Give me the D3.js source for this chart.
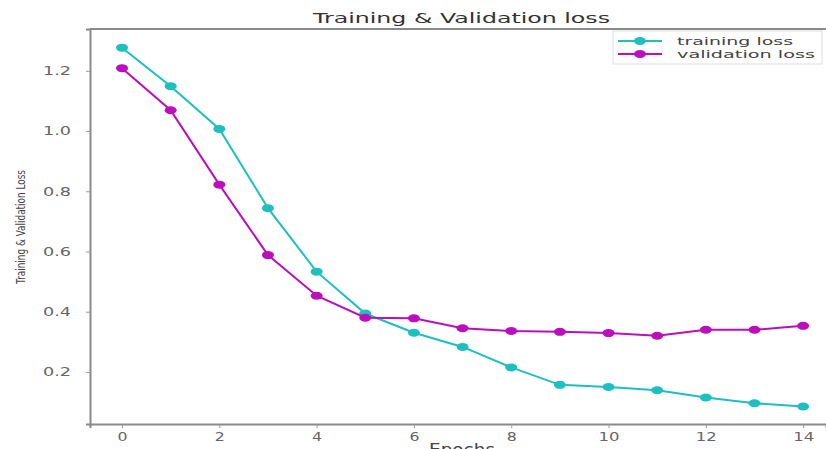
<!DOCTYPE html>
<html>
<head>
<meta charset="utf-8">
<script src="https://cdn.jsdelivr.net/npm/d3@7"></script>
<style>
    body { margin: 0; background: #fff; }
    text { font-family: "DejaVu Sans", sans-serif; }
</style>
</head>
<body>
<div id="chart"></div>
<script>
var epochs = [0, 1, 2, 3, 4, 5, 6, 7, 8, 9, 10, 11, 12, 13, 14];
var trainingLoss = [1.277, 1.149, 1.007, 0.744, 0.533, 0.394, 0.330, 0.283, 0.215, 0.157, 0.150, 0.139, 0.115, 0.096, 0.085];
var validationLoss = [1.209, 1.069, 0.822, 0.588, 0.453, 0.380, 0.378, 0.345, 0.336, 0.333, 0.329, 0.320, 0.340, 0.340, 0.353];
var xTicks = [0, 2, 4, 6, 8, 10, 12, 14];
var yTicks = [0.2, 0.4, 0.6, 0.8, 1.0, 1.2];
var seriesNames = ["training loss", "validation loss"];

var svgWidth = 826, svgHeight = 449;
var chartMargin = { top: 29, left: 90, right: 0, bottom: 25 };
var chartWidth = svgWidth - chartMargin.left - chartMargin.right;
var chartHeight = svgHeight - chartMargin.top - chartMargin.bottom;
var colors = ["#1dbfbf", "#bb0fbb"];

var svg = d3.select("#chart").append("svg")
    .attr("width", svgWidth)
    .attr("height", svgHeight);
var chartGroup = svg.append("g")
    .attr("transform", `translate(${chartMargin.left}, ${chartMargin.top})`);

var xScale = d3.scaleLinear().domain([-0.658, 14.47]).range([0, chartWidth]);
var yScale = d3.scaleLinear().domain([0.027, 1.339]).range([chartHeight, 0]);

// axes
var xAxis = chartGroup.append("g")
    .attr("transform", `translate(0, ${chartHeight})`)
    .call(d3.axisBottom(xScale).tickValues(xTicks).tickFormat(d3.format("d")).tickSize(4).tickPadding(4));
var yAxis = chartGroup.append("g")
    .call(d3.axisLeft(yScale).tickValues(yTicks).tickFormat(d3.format(".1f")).tickSize(4).tickPadding(15));

[xAxis, yAxis].forEach(function(ax) {
    ax.select(".domain").attr("stroke", "#8a8a8a").attr("stroke-width", 2);
    ax.selectAll(".tick line").attr("stroke", "#999");
    ax.selectAll(".tick text").attr("fill", "#666").style("font-size", "12px");
});
xAxis.selectAll(".tick text")
    .attr("textLength", function(d) { return d >= 10 ? 21 : 10; })
    .attr("lengthAdjust", "spacingAndGlyphs");
yAxis.selectAll(".tick text")
    .attr("textLength", 28)
    .attr("lengthAdjust", "spacingAndGlyphs");

// top spine
chartGroup.append("line")
    .attr("x1", 0).attr("x2", chartWidth)
    .attr("y1", 0).attr("y2", 0)
    .attr("stroke", "#8a8a8a")
    .attr("stroke-width", 2);

// lines and markers
var series = [trainingLoss, validationLoss];
var line = d3.line()
    .x(function(d, i) { return xScale(epochs[i]); })
    .y(function(d) { return yScale(d); });

series.forEach(function(values, s) {
    chartGroup.append("path")
        .datum(values)
        .attr("fill", "none")
        .attr("stroke", colors[s])
        .attr("stroke-width", 2)
        .attr("d", line);
    chartGroup.selectAll(".marker" + s)
        .data(values)
        .enter().append("ellipse")
        .attr("class", "marker" + s)
        .attr("cx", function(d, i) { return xScale(epochs[i]); })
        .attr("cy", function(d) { return yScale(d); })
        .attr("rx", 6)
        .attr("ry", 4)
        .attr("fill", colors[s]);
});

// title and axis labels
svg.append("text")
    .attr("x", 313).attr("y", 23)
    .attr("textLength", 297)
    .attr("lengthAdjust", "spacingAndGlyphs")
    .style("font-size", "14px")
    .attr("fill", "#333")
    .text("Training & Validation loss");

svg.append("text")
    .attr("x", 462).attr("y", 455)
    .attr("text-anchor", "middle")
    .attr("textLength", 66)
    .attr("lengthAdjust", "spacingAndGlyphs")
    .style("font-size", "15px")
    .attr("fill", "#444")
    .text("Epochs");

svg.append("text")
    .attr("transform", "translate(25, 227) rotate(-90)")
    .attr("text-anchor", "middle")
    .attr("textLength", 114)
    .attr("lengthAdjust", "spacingAndGlyphs")
    .style("font-size", "12px")
    .attr("fill", "#444")
    .text("Training & Validation Loss");

// legend
var legend = svg.append("g").attr("transform", "translate(613, 31)");
legend.append("rect")
    .attr("width", 209).attr("height", 33)
    .attr("fill", "#fff")
    .attr("stroke", "#ddd");
seriesNames.forEach(function(name, s) {
    var ly = 10 + s * 13;
    legend.append("line")
        .attr("x1", 5).attr("x2", 49)
        .attr("y1", ly).attr("y2", ly)
        .attr("stroke", colors[s])
        .attr("stroke-width", 2);
    legend.append("ellipse")
        .attr("cx", 27).attr("cy", ly)
        .attr("rx", 6).attr("ry", 4)
        .attr("fill", colors[s]);
    legend.append("text")
        .attr("x", 64).attr("y", ly + 4)
        .attr("textLength", s === 0 ? 116 : 138)
        .attr("lengthAdjust", "spacingAndGlyphs")
        .style("font-size", "11px")
        .attr("fill", "#444")
        .text(name);
});
</script>
</body>
</html>
